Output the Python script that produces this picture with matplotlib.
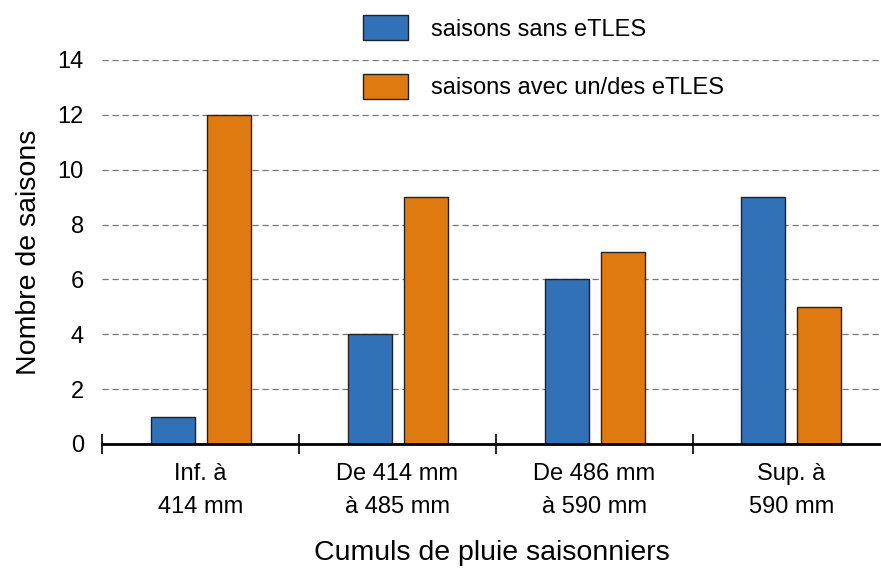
import matplotlib.pyplot as plt
import numpy as np

plt.rcParams['font.family'] = ['Liberation Sans', 'DejaVu Sans']

categories = ["Inf. à\n414 mm", "De 414 mm\nà 485 mm", "De 486 mm\nà 590 mm", "Sup. à\n590 mm"]
sans_etles = [1, 4, 6, 9]
avec_etles = [12, 9, 7, 5]
series_labels = ["saisons sans eTLES", "saisons avec un/des eTLES"]
colors = ["#3171b8", "#df7a10"]

W, H = 881, 571
fig = plt.figure(figsize=(W / 100, H / 100), dpi=100)
ax = fig.add_axes([102 / W, 1 - 444 / H, 779 / W, 384 / H])

x = np.arange(len(categories))
bw = 44 / 197
off = 28 / 197
ax.bar(x - off, sans_etles, bw, color=colors[0], edgecolor="#222222", linewidth=1.0,
       label=series_labels[0], zorder=3)
ax.bar(x + off, avec_etles, bw, color=colors[1], edgecolor="#222222", linewidth=1.0,
       label=series_labels[1], zorder=3)

ax.set_yticks(np.arange(0, 15, 2))
ax.tick_params(axis="y", length=0, pad=13, labelsize=17)
for yv in range(2, 15, 2):
    ax.axhline(yv, color="#777777", linewidth=0.9, linestyle=(0, (5, 3)), zorder=1)

# group separators as major ticks, category names on minor ticks
ax.set_xticks(np.arange(-0.5, len(categories) - 0.6, 1.0))
ax.set_xticklabels([])
ax.set_xticks(x, minor=True)
ax.set_xticklabels(categories, minor=True, fontsize=17, linespacing=1.6)
ax.tick_params(axis="x", which="major", direction="inout", length=14, width=1.2)
ax.tick_params(axis="x", which="minor", length=0, pad=14)

ax.set_xlim(-0.5, -0.5 + 779 / 197)
ax.set_ylim(0, 14)

for s in ["top", "right", "left"]:
    ax.spines[s].set_visible(False)
ax.spines["bottom"].set_linewidth(2)
ax.spines["bottom"].set_zorder(4)

ax.set_ylabel("Nombre de saisons", fontsize=20.5, labelpad=11)
ax.set_xlabel("Cumuls de pluie saisonniers", fontsize=20.5, labelpad=16)

fig.legend(loc="upper left", bbox_to_anchor=(354 / W, 1 - 6 / H), frameon=False,
           borderaxespad=0, fontsize=17, handlelength=1.9, handleheight=1.25,
           handletextpad=0.95, labelspacing=1.4)

fig.savefig("out.png", dpi=100)
